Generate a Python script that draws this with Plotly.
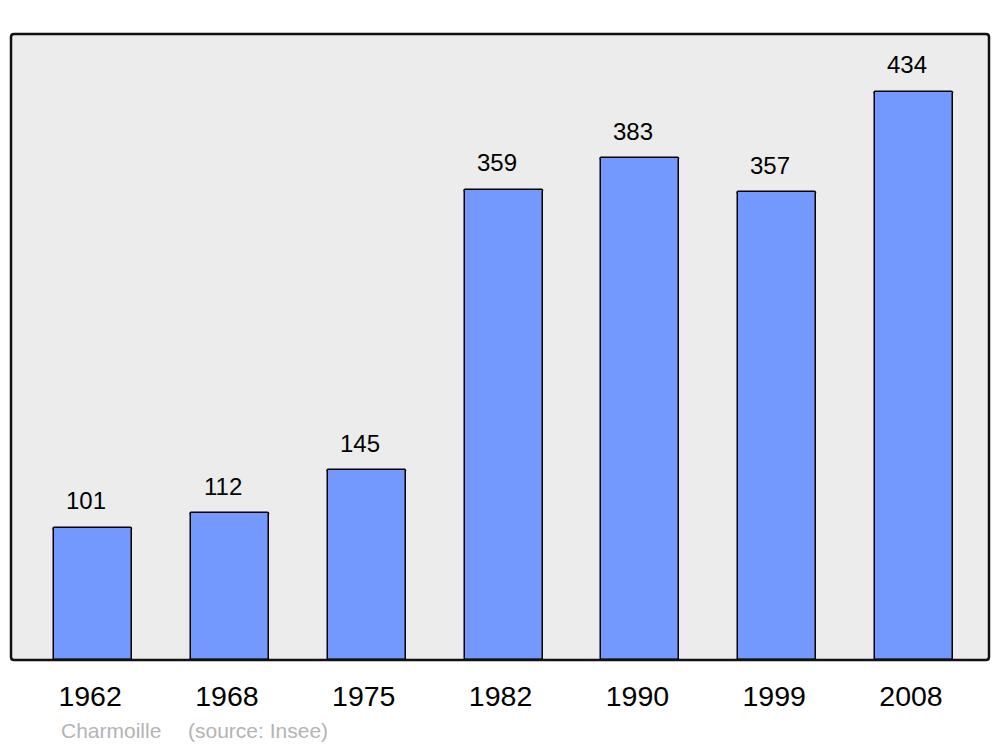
import plotly.graph_objects as go

years = ["1962", "1968", "1975", "1982", "1990", "1999", "2008"]
population = [101, 112, 145, 359, 383, 357, 434]

FONT = "Liberation Sans, Arial, sans-serif"

fig = go.Figure()
fig.add_trace(go.Bar(
    x=years, y=population, width=0.57,
    marker=dict(color="#7399ff", line=dict(color="#000000", width=1.5), cornerradius=2),
    hoverinfo="skip",
))

annotations = []
# on a category axis annotation x is the category's serial index
for i, v in enumerate(population):
    annotations.append(dict(x=i, y=v, text=str(v), showarrow=False, xref="x", yref="y",
                            yanchor="middle", xanchor="center", yshift=27, xshift=-7,
                            font=dict(family=FONT, size=24, color="#000")))
annotations.append(dict(text="Charmoille", x=0, y=0, xref="paper", yref="paper", showarrow=False,
                        xanchor="left", yanchor="middle", xshift=48, yshift=-70,
                        font=dict(family=FONT, size=21, color="#b4b4b4")))
annotations.append(dict(text="(source: Insee)", x=0, y=0, xref="paper", yref="paper", showarrow=False,
                        xanchor="left", yanchor="middle", xshift=175, yshift=-70,
                        font=dict(family=FONT, size=21, color="#b4b4b4")))

W, H = 978, 626
r = 3
rx, ry = r / W, r / H
path = (f"M {rx},0 L {1-rx},0 Q 1,0 1,{ry} L 1,{1-ry} Q 1,1 {1-rx},1 "
        f"L {rx},1 Q 0,1 0,{1-ry} L 0,{ry} Q 0,0 {rx},0 Z")
fig.add_shape(type="path", path=path, xref="paper", yref="paper",
              line=dict(color="#111111", width=2.5), layer="above")

fig.update_layout(
    width=992, height=739,
    margin=dict(l=3, r=11, t=26, b=87, autoexpand=False),
    paper_bgcolor="#ffffff", plot_bgcolor="#ececec",
    showlegend=False, bargap=0,
    annotations=annotations,
    xaxis=dict(type="category", range=[-0.6, 6.548], showgrid=False, zeroline=False,
               showline=False, ticks="", ticklabelstandoff=16, ticklabelshift=-3,
               tickfont=dict(family=FONT, size=28.5, color="#000")),
    yaxis=dict(range=[0, 478], showgrid=False, zeroline=False, showticklabels=False,
               showline=False, ticks=""),
)

fig.write_html("out.html")
